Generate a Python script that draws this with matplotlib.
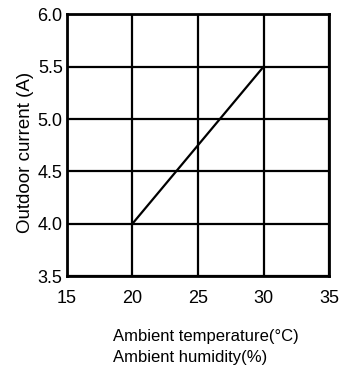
import matplotlib
matplotlib.use('Agg')
import matplotlib.pyplot as plt

# data
temperature = [20, 30]
current = [4.0, 5.5]
x_ticks = [15, 20, 25, 30, 35]
y_ticks = [3.5, 4.0, 4.5, 5.0, 5.5, 6.0]

plt.rcParams['font.family'] = ['Liberation Sans', 'DejaVu Sans']

fig = plt.figure(figsize=(3.52, 3.69), dpi=100)
ax = fig.add_axes([0.190, 0.252, 0.745, 0.709])

ax.plot(temperature, current, color='black', linewidth=1.6)

ax.set_xlim(x_ticks[0], x_ticks[-1])
ax.set_ylim(y_ticks[0], y_ticks[-1])
ax.set_xticks(x_ticks)
ax.set_yticks(y_ticks)
ax.set_yticklabels([f'{v:.1f}' for v in y_ticks])
ax.grid(True, color='black', linewidth=1.6)
ax.tick_params(axis='both', length=0, labelsize=13)
ax.tick_params(axis='x', pad=10)
ax.tick_params(axis='y', pad=3)
for s in ax.spines.values():
    s.set_linewidth(2.0)

fig.text(25 / 352, 1 - 152 / 369, 'Outdoor current (A)', rotation=90,
         ha='center', va='center', fontsize=13.5)
fig.text(113 / 352, 1 - 347 / 369, 'Ambient temperature(°C)\nAmbient humidity(%)',
         ha='left', va='center', fontsize=12, linespacing=1.5)

fig.savefig('out.png', dpi=100)
